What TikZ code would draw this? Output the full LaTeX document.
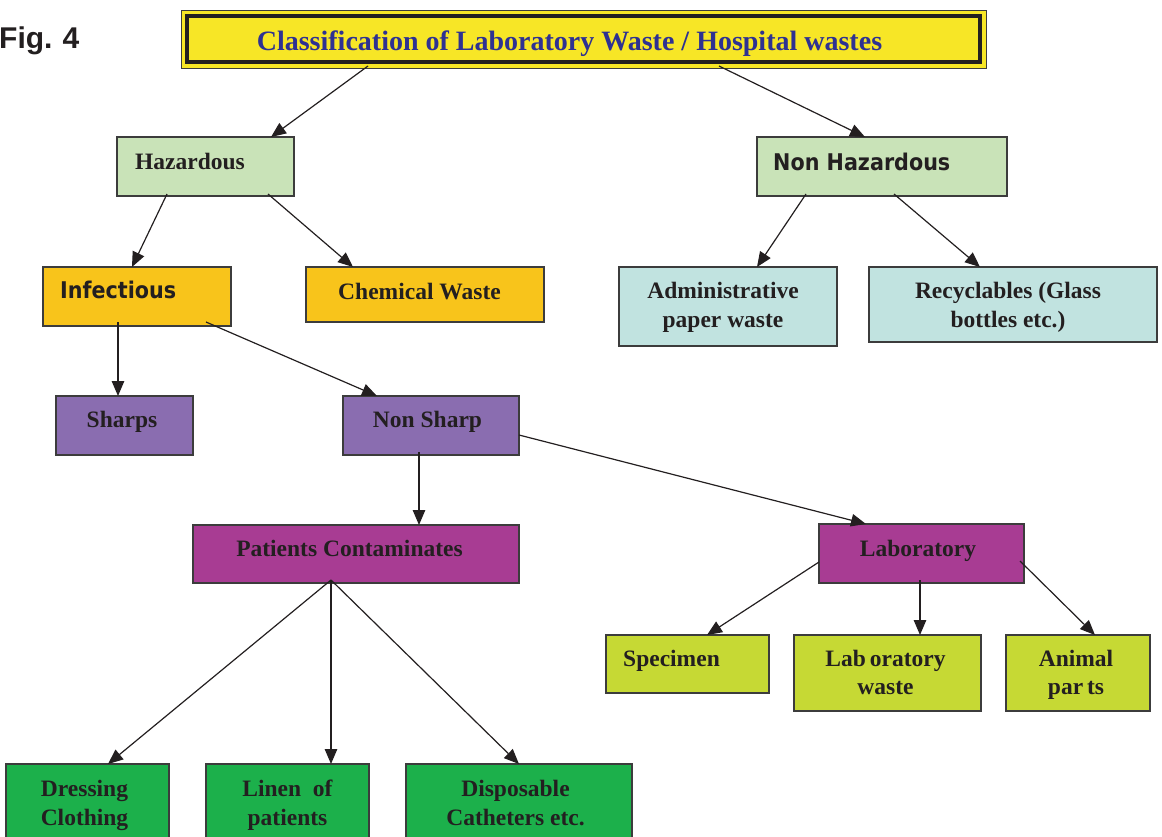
\documentclass[tikz,border=0pt]{standalone}
\usepackage{fontspec}
\setmainfont{Liberation Serif}
\newfontfamily\figfont{Liberation Sans}
\newfontfamily\sansfam[FakeStretch=0.9]{DejaVu Sans}
\usetikzlibrary{arrows.meta,calc}
\definecolor{ttl}{RGB}{247,230,38}
\definecolor{navy}{RGB}{46,49,146}
\definecolor{lg}{RGB}{201,227,184}
\definecolor{org}{RGB}{248,196,27}
\definecolor{lb}{RGB}{193,227,224}
\definecolor{pur}{RGB}{138,109,176}
\definecolor{mag}{RGB}{168,60,147}
\definecolor{yg}{RGB}{198,217,52}
\definecolor{gr}{RGB}{28,176,75}
\definecolor{txtc}{RGB}{35,31,32}
\definecolor{bordc}{RGB}{60,60,60}
\begin{document}
\begin{tikzpicture}[x=1pt,y=-1pt,
  box/.style={draw=bordc, line width=1.4pt, inner sep=0pt, outer sep=0pt, anchor=north west},
  txt/.style={inner sep=0pt, text=txtc, font=\fontsize{23.5}{29}\selectfont\bfseries},
  stxt/.style={inner sep=0pt, text=txtc, font=\sansfam\fontsize{23}{28}\selectfont\bfseries},
  two/.style={txt, align=center, anchor=north, execute at begin node=\strut,
     font=\fontsize{23.5}{#1}\selectfont\bfseries},
  arr/.style={-{Triangle[length=15pt,width=12.5pt]}, line width=1.2pt, draw=txtc}
]
\useasboundingbox (0,0) rectangle (1162,836);

% Title
\node[box, fill=ttl, line width=1pt, minimum width=805pt, minimum height=58pt] (title) at (181,10) {};
\draw[line width=4pt, draw=txtc] ($(title.north west)+(6,6)$) rectangle ($(title.south east)+(-6,-6)$);
\node[anchor=base, inner sep=0pt, text=navy, font=\fontsize{28}{34}\selectfont\bfseries] (title-t) at (569.5,50) {Classification of Laboratory Waste / Hospital wastes};

\node[anchor=base west, inner sep=0pt, text=txtc, font=\figfont\fontsize{30}{36}\selectfont\bfseries] (fig) at (-1,48) {Fig.\kern10pt 4};

% Boxes
\node[box, fill=lg, minimum width=177pt, minimum height=59pt] (hz) at (117,137) {};
\node[box, fill=lg, minimum width=250pt, minimum height=59pt] (nh) at (757,137) {};
\node[box, fill=org, minimum width=188pt, minimum height=59pt] (inf) at (43,267) {};
\node[box, fill=org, minimum width=238pt, minimum height=55pt] (chem) at (306,267) {};
\node[box, fill=lb, minimum width=218pt, minimum height=79pt] (adm) at (619,267) {};
\node[box, fill=lb, minimum width=288pt, minimum height=75pt] (rec) at (869,267) {};
\node[box, fill=pur, minimum width=137pt, minimum height=59pt] (sh) at (56,396) {};
\node[box, fill=pur, minimum width=176pt, minimum height=59pt] (ns) at (343,396) {};
\node[box, fill=mag, minimum width=326pt, minimum height=58pt] (pc) at (193,525) {};
\node[box, fill=mag, minimum width=205pt, minimum height=59pt] (lab) at (819,524) {};
\node[box, fill=yg, minimum width=163pt, minimum height=58pt] (spec) at (606,635) {};
\node[box, fill=yg, minimum width=187pt, minimum height=76pt] (lw) at (794,635) {};
\node[box, fill=yg, minimum width=144pt, minimum height=76pt] (ap) at (1006,635) {};
\node[box, fill=gr, minimum width=163pt, minimum height=100pt] (dc) at (6,764) {};
\node[box, fill=gr, minimum width=163pt, minimum height=100pt] (lp) at (206,764) {};
\node[box, fill=gr, minimum width=226pt, minimum height=100pt] (dis) at (406,764) {};

% Texts
\node[txt, anchor=base west] (hz-t) at (135,169) {Hazardous};
\node[stxt, anchor=base west] (nh-t) at (773,170) {Non Hazardous};
\node[stxt, anchor=base west] (inf-t) at (60,298) {Infectious};
\node[txt, anchor=base] (chem-t) at (419.5,299) {Chemical Waste};
\node[txt, anchor=base] (sh-t) at (122,427) {Sharps};
\node[txt, anchor=base] (ns-t) at (427.5,427) {Non Sharp};
\node[txt, anchor=base] (pc-t) at (349.5,556) {Patients Contaminates};
\node[txt, anchor=base] (lab-t) at (918,556) {Laboratory};
\node[txt, anchor=base west] (spec-t) at (623,666) {Specimen};
\node[two=29] (adm-t) at (723,281.5) {Administrative\\\strut paper waste};
\node[two=29] (rec-t) at (1008,281.5) {Recyclables (Glass\\\strut bottles etc.)};
\node[two=28] (lw-t) at (885.5,650) {Lab\,oratory\\\strut waste};
\node[two=28] (ap-t) at (1076,650) {Animal\\\strut par\,ts};
\node[two=29] (dc-t) at (84.5,779.5) {Dressing\\\strut Clothing};
\node[two=29] (lp-t) at (287.5,779.5) {Linen\ \ of\\\strut patients};
\node[two=29] (dis-t) at (515.5,779.5) {Disposable\\\strut Catheters etc.};

% Connectors
\draw[arr] ($(title.south west)+(187,-2)$) -- ($(hz.north west)+(154,0)$);
\draw[arr] ($(title.south west)+(538,-2)$) -- ($(nh.north west)+(108,0)$);
\draw[arr] ($(hz.south west)+(50,-2)$) -- ($(inf.north west)+(89,0)$);
\draw[arr] ($(hz.south west)+(151,-2)$) -- ($(chem.north west)+(47,0)$);
\draw[arr] ($(nh.south west)+(49,-2)$) -- ($(adm.north west)+(138,0)$);
\draw[arr] ($(nh.south west)+(137,-2)$) -- ($(rec.north west)+(111,0)$);
\draw[arr] ($(inf.south west)+(75,-4)$) -- ($(sh.north west)+(62,0)$);
\draw[arr] ($(inf.south west)+(163,-4)$) -- ($(ns.north west)+(34,0)$);
\draw[arr] ($(ns.south west)+(76,-3)$) -- ($(pc.north west)+(226,0)$);
\draw[arr] ($(ns.north east)+(0,39)$) -- ($(lab.north west)+(47,0)$);
\draw[arr] ($(lab.north west)+(0,38)$) -- ($(spec.north west)+(101,0)$);
\draw[arr] ($(lab.south west)+(101,-3)$) -- ($(lw.north west)+(126,0)$);
\draw[arr] ($(lab.north east)+(-4,37)$) -- ($(ap.north west)+(89,0)$);
\draw[arr] ($(pc.south west)+(138,-3)$) -- ($(dc.north west)+(102,0)$);
\draw[arr] ($(pc.south west)+(138,-3)$) -- ($(lp.north west)+(125,0)$);
\draw[arr] ($(pc.south west)+(138,-3)$) -- ($(dis.north west)+(113,0)$);
\end{tikzpicture}
\end{document}
